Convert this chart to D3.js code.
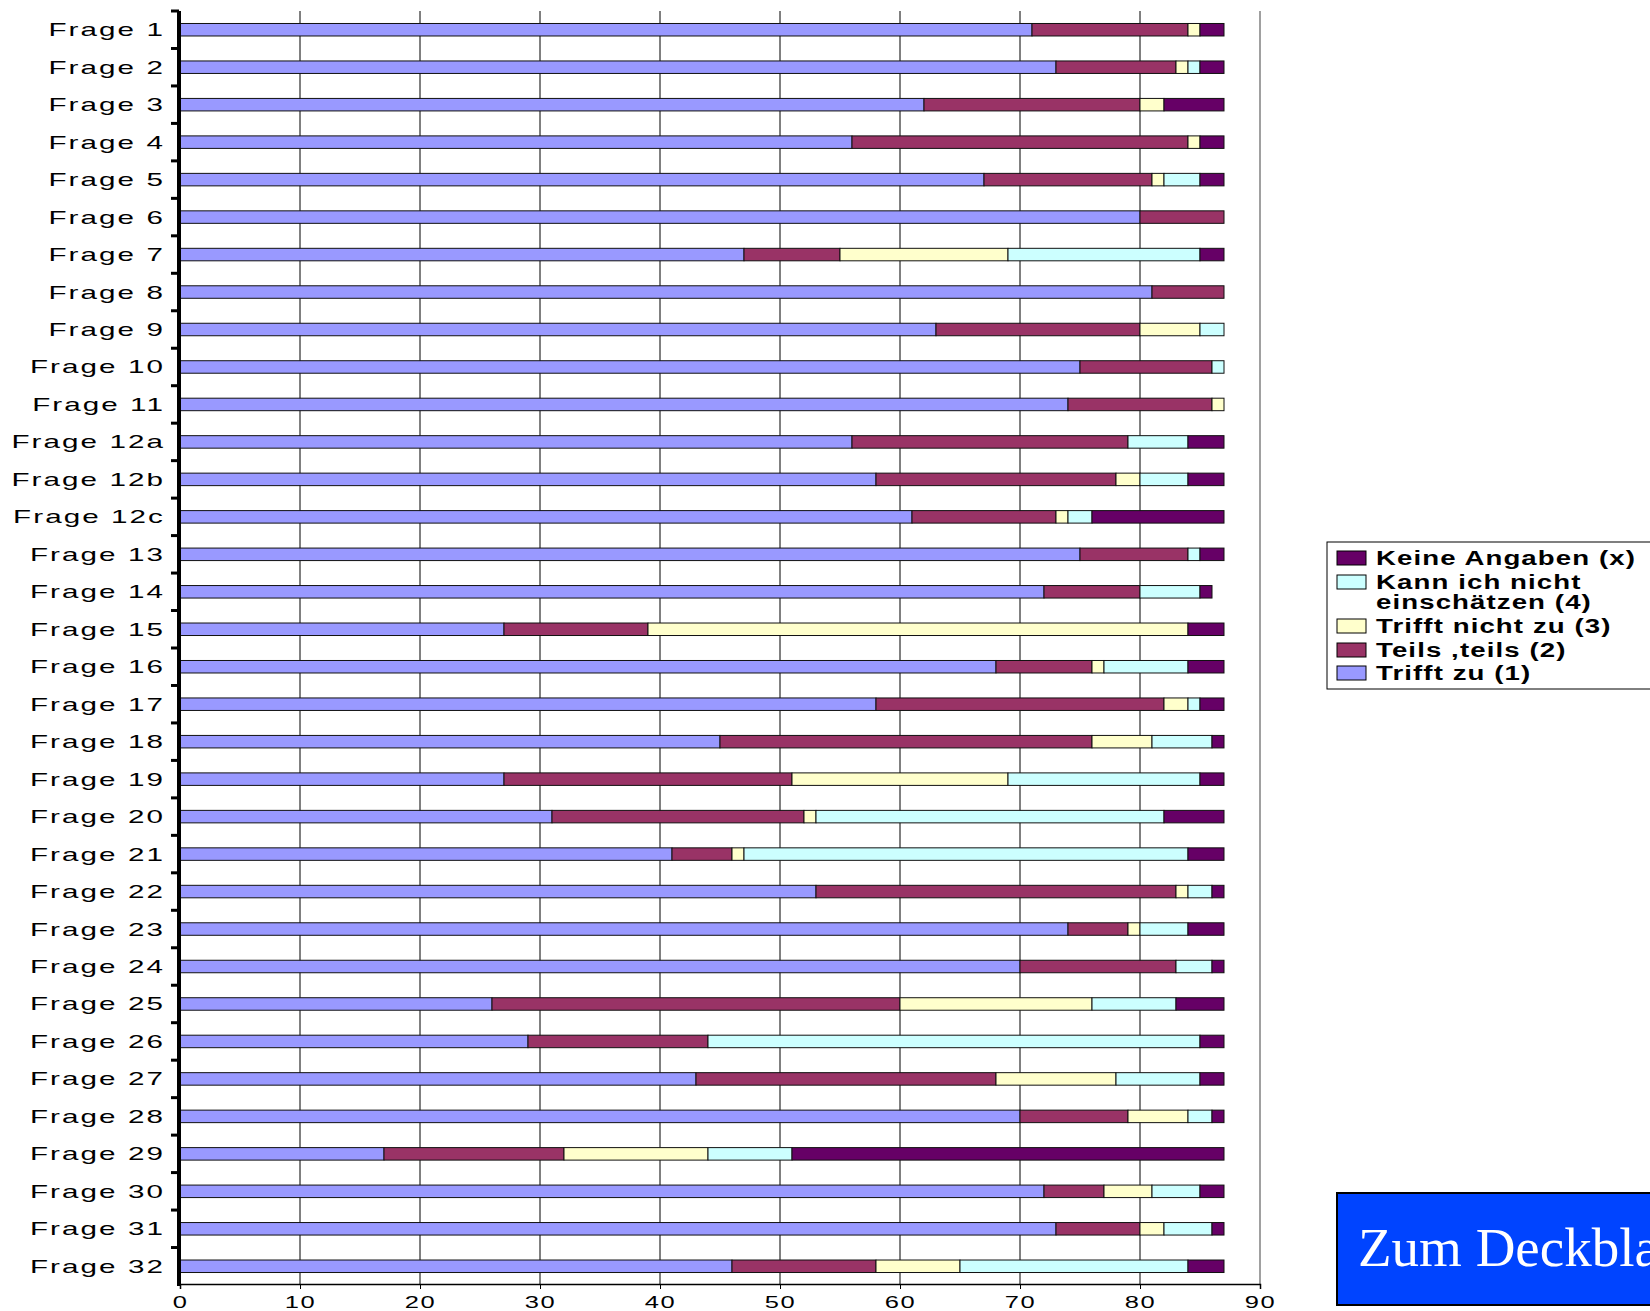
<!DOCTYPE html>
<html lang="de">
<head>
<meta charset="utf-8">
<title>Fragen</title>
<script src="https://cdn.jsdelivr.net/npm/d3@7"></script>
<style>
  body { margin: 0; background: white; overflow: hidden; }
</style>
</head>
<body>
<div id="container"></div>
<script>
const categories = ["Frage 1","Frage 2","Frage 3","Frage 4","Frage 5","Frage 6","Frage 7","Frage 8",
  "Frage 9","Frage 10","Frage 11","Frage 12a","Frage 12b","Frage 12c","Frage 13","Frage 14",
  "Frage 15","Frage 16","Frage 17","Frage 18","Frage 19","Frage 20","Frage 21","Frage 22",
  "Frage 23","Frage 24","Frage 25","Frage 26","Frage 27","Frage 28","Frage 29","Frage 30",
  "Frage 31","Frage 32"];

const trifftZu    = [71,73,62,56,67,80,47,81,63,75,74,56,58,61,75,72,27,68,58,45,27,31,41,53,74,70,26,29,43,70,17,72,73,46];
const teilsTeils  = [13,10,18,28,14,7,8,6,17,11,12,23,20,12,9,8,12,8,24,31,24,21,5,30,5,13,34,15,25,9,15,5,7,12];
const trifftNicht = [1,1,2,1,1,0,14,0,5,0,1,0,2,1,0,0,45,1,2,5,18,1,1,1,1,0,16,0,10,5,12,4,2,7];
const kannNicht   = [0,1,0,0,3,0,16,0,2,1,0,5,4,2,1,5,0,7,1,5,16,29,37,2,4,3,7,41,7,2,7,4,4,19];
const keineAngabe = [2,2,5,2,2,0,2,0,0,0,0,3,3,11,2,1,3,3,2,1,2,5,3,1,3,1,4,2,2,1,36,2,1,3];

const seriesNames = ["Trifft zu (1)", "Teils ,teils (2)", "Trifft nicht zu (3)",
  "Kann ich nicht einschätzen (4)", "Keine Angaben (x)"];
const seriesColors = ["#9999ff", "#993366", "#ffffcc", "#ccffff", "#660066"];
const xTicks = [0,10,20,30,40,50,60,70,80,90];

const W = 1650, H = 1311;
const plot = {left: 180, right: 1260, top: 11, bottom: 1285};

const table = categories.map((c, i) => ({
  cat: c,
  [seriesNames[0]]: trifftZu[i],
  [seriesNames[1]]: teilsTeils[i],
  [seriesNames[2]]: trifftNicht[i],
  [seriesNames[3]]: kannNicht[i],
  [seriesNames[4]]: keineAngabe[i]
}));

const svg = d3.select("#container").append("svg")
  .attr("width", W).attr("height", H)
  .style("font-family", "'Liberation Sans', Arial, sans-serif");

const x = d3.scaleLinear().domain([0, 90]).range([plot.left, plot.right]);
const y = d3.scaleBand().domain(categories).range([plot.top, plot.bottom]);
const color = d3.scaleOrdinal().domain(seriesNames).range(seriesColors);

// vertical gridlines
svg.append("g").selectAll("line")
  .data(xTicks.filter(d => d > 0))
  .enter().append("line")
  .attr("x1", d => x(d)).attr("x2", d => x(d))
  .attr("y1", plot.top).attr("y2", plot.bottom)
  .attr("stroke", d => d === 90 ? "#808080" : "#000")
  .attr("stroke-width", d => d === 90 ? 1.5 : 1);

// stacked bars
const stacked = d3.stack().keys(seriesNames)(table);
const barH = 12.5;
svg.append("g").selectAll("g")
  .data(stacked)
  .enter().append("g")
  .attr("fill", d => color(d.key))
  .selectAll("rect")
  .data(d => d.filter(s => s[1] - s[0] > 0))
  .enter().append("rect")
  .attr("x", d => x(d[0]))
  .attr("width", d => x(d[1]) - x(d[0]))
  .attr("y", d => y(d.data.cat) + y.bandwidth() / 2 - barH / 2)
  .attr("height", barH)
  .attr("stroke", "#111")
  .attr("stroke-width", 1);

// x axis
const xAxis = svg.append("g")
  .attr("transform", `translate(0, ${plot.bottom - 1})`)
  .call(d3.axisBottom(x).tickValues(xTicks).tickSize(5).tickFormat(d3.format("d")));
xAxis.select(".domain").attr("stroke", "#000").attr("stroke-width", 1.5);
xAxis.selectAll(".tick line").attr("stroke", "#000");
xAxis.selectAll(".tick text").remove();
xAxis.selectAll(".tick").append("text")
  .attr("transform", "translate(0, 24) scale(1.5, 1)")
  .attr("text-anchor", "middle")
  .attr("fill", "#000")
  .style("font-size", "17px")
  .style("letter-spacing", "1px")
  .text(d => d);

// y axis (thick, ticks between categories)
const yAxis = svg.append("g").attr("transform", `translate(${plot.left - 1}, 0)`);
yAxis.append("line")
  .attr("x1", 0).attr("x2", 0)
  .attr("y1", plot.top).attr("y2", plot.bottom + 1)
  .attr("stroke", "#000").attr("stroke-width", 4);
yAxis.selectAll(".sep")
  .data(categories)
  .enter().append("line")
  .attr("x1", -8).attr("x2", 0)
  .attr("y1", d => y(d)).attr("y2", d => y(d))
  .attr("stroke", "#000").attr("stroke-width", 3);
yAxis.selectAll(".lab")
  .data(categories)
  .enter().append("text")
  .attr("transform", d => `translate(-14, ${y(d) + y.bandwidth() / 2 + 6.5}) scale(1.6, 1)`)
  .attr("text-anchor", "end")
  .style("font-size", "18.5px")
  .style("letter-spacing", "1.3px")
  .text(d => d);

// legend
const legend = svg.append("g").attr("transform", "translate(1327, 542)");
legend.append("rect")
  .attr("x", 0).attr("y", 0).attr("width", 340).attr("height", 147)
  .attr("fill", "white").attr("stroke", "#000").attr("stroke-width", 1);

const legendRows = [
  {key: seriesNames[4], lines: ["Keine Angaben (x)"], y: 16},
  {key: seriesNames[3], lines: ["Kann ich nicht", "einschätzen (4)"], y: 40},
  {key: seriesNames[2], lines: ["Trifft nicht zu (3)"], y: 84},
  {key: seriesNames[1], lines: ["Teils ,teils (2)"], y: 108},
  {key: seriesNames[0], lines: ["Trifft zu (1)"], y: 131}
];
const lg = legend.selectAll(".row").data(legendRows).enter().append("g")
  .attr("transform", d => `translate(10, ${d.y})`);
lg.append("rect")
  .attr("x", 0).attr("y", -7).attr("width", 29).attr("height", 14)
  .attr("fill", d => color(d.key)).attr("stroke", "#000").attr("stroke-width", 1);
lg.selectAll("text").data(d => d.lines).enter().append("text")
  .attr("transform", (d, i) => `translate(39, ${7 + i * 20}) scale(1.38, 1)`)
  .style("font-size", "20px")
  .style("font-weight", "bold")
  .style("letter-spacing", "0.8px")
  .text(d => d);

// button
const btn = svg.append("g").attr("transform", "translate(1337, 1193)");
btn.append("rect")
  .attr("x", 0).attr("y", 0).attr("width", 340).attr("height", 112)
  .attr("fill", "#0044ff").attr("stroke", "#000").attr("stroke-width", 2);
btn.append("text")
  .attr("x", 21).attr("y", 73)
  .attr("fill", "white")
  .style("font-family", "'Liberation Serif', 'Times New Roman', serif")
  .style("font-size", "55px")
  .text("Zum Deckblatt");
</script>
</body>
</html>
